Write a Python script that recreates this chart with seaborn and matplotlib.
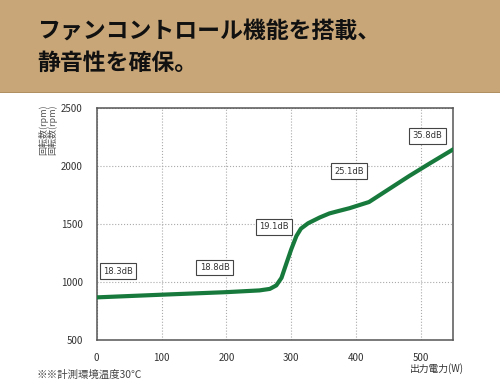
import matplotlib
matplotlib.use("Agg")
import matplotlib.pyplot as plt
import pandas as pd
import seaborn as sns
from matplotlib.patches import Rectangle

# 出力電力(W) と 回転数(rpm)
power_w = [0, 100, 200, 251, 267, 277, 285, 292, 300, 308, 315, 326, 344,
           359, 374, 390, 420, 451, 482, 513, 550]
fan_rpm = [867, 890, 912, 927, 940, 970, 1035, 1150, 1280, 1395, 1459, 1505,
           1555, 1590, 1612, 1635, 1688, 1800, 1912, 2018, 2142]

# ノイズレベルのラベル
db_labels = ["18.3dB", "18.8dB", "19.1dB", "25.1dB", "35.8dB"]
db_x = [33, 182, 273, 389, 510]
db_y = [1094, 1124, 1475, 1955, 2258]

x_ticks = [0, 100, 200, 300, 400, 500]
y_ticks = [500, 1000, 1500, 2000, 2500]

df = pd.DataFrame({"power": power_w, "rpm": fan_rpm})

sns.set_style("white")
plt.rcParams["font.family"] = ["Noto Sans CJK JP", "DejaVu Sans"]

fig = plt.figure(figsize=(5, 3.81), dpi=100)
fig.patch.set_facecolor("white")

# ヘッダー帯
fig.patches.append(Rectangle((0, 0.7585), 1, 0.2415, transform=fig.transFigure,
                             facecolor="#c8a678", edgecolor="none", zorder=0))
fig.patches.append(Rectangle((0, 0.7555), 1, 0.004, transform=fig.transFigure,
                             facecolor="#b08f60", edgecolor="none", zorder=0))
fig.text(0.074, 0.917, "ファンコントロール機能を搭載、", fontsize=16.5,
         fontweight="bold", color="#111111", va="center", ha="left")
fig.text(0.074, 0.833, "静音性を確保。", fontsize=16.5,
         fontweight="bold", color="#111111", va="center", ha="left")

ax = fig.add_axes([0.1934, 0.1076, 0.7132, 0.6097])
sns.lineplot(data=df, x="power", y="rpm", ax=ax, color="#177a3c",
             linewidth=3.0, zorder=3, solid_joinstyle="round",
             solid_capstyle="round")

ax.set_xlim(0, 550)
ax.set_ylim(500, 2500)
ax.set_xticks(x_ticks)
ax.set_yticks(y_ticks)
ax.grid(True, linestyle=":", color="#aaaaaa", linewidth=0.8)
ax.set_xlabel("")
ax.set_ylabel("")
ax.tick_params(axis="both", length=0, labelsize=7, colors="#333333")
ax.tick_params(axis="x", pad=9)
ax.tick_params(axis="y", pad=10)
for s in ax.spines.values():
    s.set_color("#555555")
    s.set_linewidth(1.1)

for lbl, xv, yv in zip(db_labels, db_x, db_y):
    ax.text(xv, yv, lbl, fontsize=6, color="#333333", ha="center", va="center",
            family=["DejaVu Sans"], zorder=4,
            bbox=dict(boxstyle="square,pad=0.4", facecolor="white",
                      edgecolor="#444444", linewidth=0.8))

# 軸ラベル
for xp in (0.086, 0.104):
    fig.text(xp, 0.725, "回転数(rpm)", rotation=90, fontsize=6.5,
             color="#555555", ha="center", va="top")
fig.text(0.82, 0.032, "出力電力(W)", fontsize=7, color="#333333",
         ha="left", va="center")
fig.text(0.074, 0.016, "※※計測環境温度30℃", fontsize=7.5, color="#444444",
         ha="left", va="center")

fig.savefig("out.png", dpi=100)
